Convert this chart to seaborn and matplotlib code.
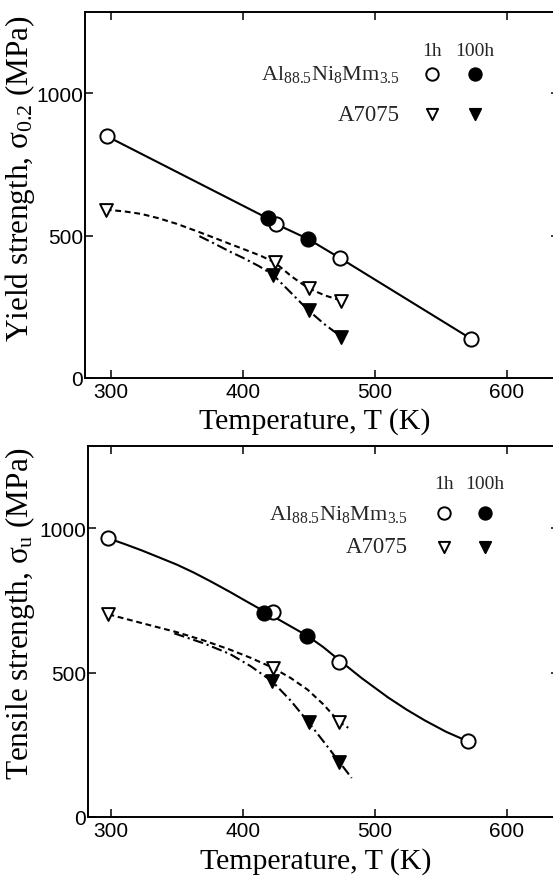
import matplotlib
matplotlib.use("Agg")
import matplotlib.pyplot as plt
import seaborn as sns
import pandas as pd

# ---------------- data ----------------
# Panel 1: yield strength (MPa)
ys_al_1h_T = [296.8, 424.8, 473.9, 573.1]
ys_al_1h_v = [849, 541, 420, 137]
ys_al_100h_T = [418.6, 449.4]
ys_al_100h_v = [561, 488]
ys_a7_1h_T = [296.0, 424.0, 449.7, 474.4]
ys_a7_1h_v = [591, 406, 315, 272]
ys_a7_100h_T = [422.9, 449.7, 474.4]
ys_a7_100h_v = [362, 237, 145]
# fitted curves
ys_al_curve_T = [296.8, 418.6, 424.8, 449.4, 473.9, 573.1]
ys_al_curve_v = [849, 561, 541, 488, 420, 137]
ys_a7_1h_curve_T = [296.0, 310, 323, 336, 350, 367, 380, 390, 403, 414, 424.0, 437, 449.7, 462, 474.4]
ys_a7_1h_curve_v = [591, 585, 576, 561, 541, 512, 489, 471, 448, 428, 406, 356, 315, 290, 272]
ys_a7_100h_curve_T = [367, 380, 390, 400, 412, 422.9, 436, 449.7, 462, 474.4]
ys_a7_100h_curve_v = [498, 468, 444, 422, 393, 362, 301, 237, 188, 145]

# Panel 2: tensile strength (MPa)
ts_al_1h_T = [298.1, 422.9, 472.5, 570.5]
ts_al_1h_v = [965, 709, 538, 262]
ts_al_100h_T = [416.2, 448.9]
ts_al_100h_v = [705, 627]
ts_a7_1h_T = [298.1, 422.6, 473.0]
ts_a7_1h_v = [702, 517, 329]
ts_a7_100h_T = [422.1, 449.7, 473.0]
ts_a7_100h_v = [470, 328, 191]
ts_al_curve_T = [298.1, 310, 323, 336, 350, 363, 376, 390, 403, 419, 434, 449, 461, 472.5, 490,
                 510, 524, 538, 554, 570.5]
ts_al_curve_v = [965, 946, 924, 900, 874, 846, 815, 780, 746, 705, 666, 627, 588, 545, 481,
                 414, 372, 334, 295, 262]
ts_a7_1h_curve_T = [298.1, 323, 350, 370, 390, 406, 422.6, 436, 449, 461, 473.0, 479.8]
ts_a7_1h_curve_v = [702, 672, 640, 612, 580, 551, 517, 482, 441, 390, 329, 309]
ts_a7_100h_curve_T = [348, 370, 390, 406, 422.1, 436, 449.7, 461, 473.0, 482.4]
ts_a7_100h_curve_v = [636, 602, 565, 522, 470, 404, 328, 262, 191, 135]

x_ticks = [300, 400, 500, 600]
y_ticks = [0, 500, 1000]

# ---------------- style ----------------
sns.set_theme(style="ticks")
plt.rcParams["font.family"] = ["Liberation Serif", "DejaVu Serif"]
plt.rcParams["mathtext.fontset"] = "custom"
plt.rcParams["mathtext.rm"] = "Liberation Serif"
plt.rcParams["mathtext.it"] = "Liberation Serif"
plt.rcParams["mathtext.bf"] = "Liberation Serif"

fig = plt.figure(figsize=(5.53, 8.78), dpi=100)
ax1 = fig.add_axes([85 / 553, 1 - 379 / 878, 474 / 553, 366 / 878])
ax2 = fig.add_axes([88 / 553, 1 - 818 / 878, 471 / 553, 371 / 878])

LW = 1.5
DASH = (0, (2.8, 1.8))
DASHDOT = (0, (5.0, 1.8, 1.0, 1.8))


def curve(ax, T, v, ls):
    df = pd.DataFrame({"T": T, "v": v})
    sns.lineplot(data=df, x="T", y="v", ax=ax, color="black", lw=LW,
                 linestyle=ls, sort=False, estimator=None, zorder=2)


def pts(ax, T, v, marker, filled, s):
    df = pd.DataFrame({"T": T, "v": v})
    sns.scatterplot(data=df, x="T", y="v", ax=ax, marker=marker, s=s,
                    facecolor="black" if filled else "white",
                    edgecolor="black", linewidth=1.4, zorder=3)


def panel(ax, d, xlim, ylab, leg):
    curve(ax, d["alc"][0], d["alc"][1], "-")
    curve(ax, d["a1c"][0], d["a1c"][1], DASH)
    curve(ax, d["a2c"][0], d["a2c"][1], DASHDOT)
    pts(ax, *d["al1"], "o", False, 105)
    pts(ax, *d["al2"], "o", True, 105)
    pts(ax, *d["a71"], "v", False, 85)
    pts(ax, *d["a72"], "v", True, 85)

    ax.set_xlim(*xlim)
    ax.set_ylim(0, 1285)
    ax.set_xticks(x_ticks)
    ax.set_yticks(y_ticks)
    ax.tick_params(direction="in", length=5.8, width=1.1, top=True, right=True,
                   labelsize=15, labelcolor="black", color="black")
    ax.tick_params(axis="y", pad=1.5)
    ax.tick_params(axis="x", pad=3)
    for lab in ax.get_xticklabels() + ax.get_yticklabels():
        lab.set_fontfamily("Liberation Sans")
    for sp in ax.spines.values():
        sp.set_linewidth(1.4)
        sp.set_color("black")
    ax.set_xlabel("Temperature, T (K)", fontsize=21.5, color="black")
    ax.set_ylabel(ylab, fontsize=22.5, color="black")
    ax.xaxis.set_label_coords(leg["xl"][0], leg["xl"][1])
    ax.yaxis.set_label_coords(leg["yl"][0], leg["yl"][1])

    # legend block
    tr = ax.transAxes
    c1, c2 = leg["cols"]
    r0, r1, r2 = leg["rows"]
    ax.text(c1, r0, "1h", transform=tr, ha="center", va="center", fontsize=14)
    ax.text(c2, r0, "100h", transform=tr, ha="center", va="center", fontsize=14)
    ax.text(leg["lx"], r1, r"Al$_{\mathrm{88.5}}$Ni$_{\mathrm{8}}$Mm$_{\mathrm{3.5}}$",
            transform=tr, ha="right", va="center", fontsize=16)
    ax.text(leg["lx"], r2, "A7075", transform=tr, ha="right", va="center", fontsize=16.5)
    ax.scatter([c1], [r1], transform=tr, marker="o", s=80, facecolor="white",
               edgecolor="black", linewidth=1.4, zorder=4)
    ax.scatter([c2], [r1], transform=tr, marker="o", s=80, facecolor="black",
               edgecolor="black", linewidth=1.4, zorder=4)
    ax.scatter([c1], [r2], transform=tr, marker="v", s=65, facecolor="white",
               edgecolor="black", linewidth=1.4, zorder=4)
    ax.scatter([c2], [r2], transform=tr, marker="v", s=65, facecolor="black",
               edgecolor="black", linewidth=1.4, zorder=4)


d1 = {
    "alc": (ys_al_curve_T, ys_al_curve_v),
    "a1c": (ys_a7_1h_curve_T, ys_a7_1h_curve_v),
    "a2c": (ys_a7_100h_curve_T, ys_a7_100h_curve_v),
    "al1": (ys_al_1h_T, ys_al_1h_v),
    "al2": (ys_al_100h_T, ys_al_100h_v),
    "a71": (ys_a7_1h_T, ys_a7_1h_v),
    "a72": (ys_a7_100h_T, ys_a7_100h_v),
}
d2 = {
    "alc": (ts_al_curve_T, ts_al_curve_v),
    "a1c": (ts_a7_1h_curve_T, ts_a7_1h_curve_v),
    "a2c": (ts_a7_100h_curve_T, ts_a7_100h_curve_v),
    "al1": (ts_al_1h_T, ts_al_1h_v),
    "al2": (ts_al_100h_T, ts_al_100h_v),
    "a71": (ts_a7_1h_T, ts_a7_1h_v),
    "a72": (ts_a7_100h_T, ts_a7_100h_v),
}

panel(ax1, d1, (280.3, 639.5), r"Yield strength, $\sigma_{\mathrm{0.2}}$ (MPa)",
      {"xl": (0.485, -0.08), "yl": (-0.101, 0.548),
       "cols": (0.732, 0.823), "rows": (0.894, 0.831, 0.721), "lx": 0.665})
panel(ax2, d2, (282.6, 639.5), r"Tensile strength, $\sigma_{\mathrm{u}}$ (MPa)",
      {"xl": (0.484, -0.082), "yl": (-0.108, 0.551),
       "cols": (0.755, 0.842), "rows": (0.900, 0.819, 0.728), "lx": 0.679})

fig.savefig("out.png", dpi=100)
